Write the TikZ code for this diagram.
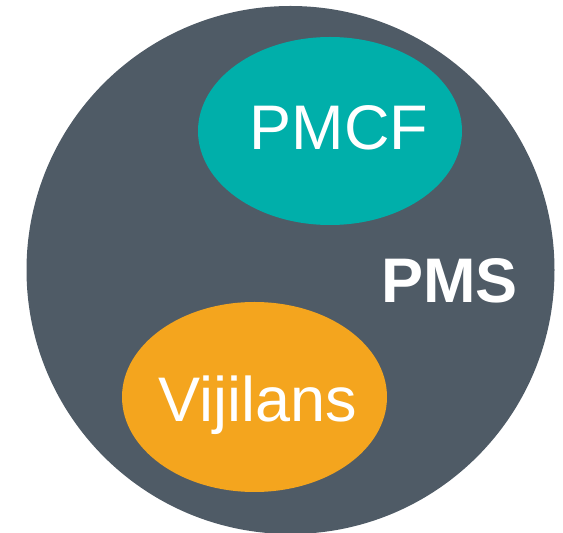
\documentclass[tikz,border=0pt]{standalone}
\usepackage{fontspec}
\setmainfont{Liberation Sans}
\usetikzlibrary{shapes.geometric}

\definecolor{slate}{RGB}{79,91,102}
\definecolor{pmcfteal}{RGB}{0,175,170}
\definecolor{vijorange}{RGB}{244,165,30}

\tikzset{
  blob/.style={ellipse,inner sep=0pt},
  word/.style={text=white,inner sep=0pt,anchor=base,font=\fontsize{63}{63}\selectfont},
}

\begin{document}
\begin{tikzpicture}[x=1pt,y=1pt]
  \useasboundingbox (0,0) rectangle (563,533);
  \node[circle,fill=slate,inner sep=0pt,minimum size=528pt] (pms) at (290.5,263) {};
  \node[blob,fill=pmcfteal,minimum width=264pt,minimum height=188pt] (pmcf) at (330,402) {};
  \node[blob,fill=vijorange,minimum width=265pt,minimum height=190pt] (vij) at (254.5,136) {};
  \node[word] (pmcftext) at ([xshift=9pt,yshift=-19pt]pmcf.center) {PMCF};
  \node[word] (vijtext) at ([xshift=3.5pt,yshift=-25pt]vij.center) {Vijilans};
  \node[word,font=\fontsize{63}{63}\selectfont\bfseries] (pmstext) at (449.5,230) {PMS};
\end{tikzpicture}
\end{document}
